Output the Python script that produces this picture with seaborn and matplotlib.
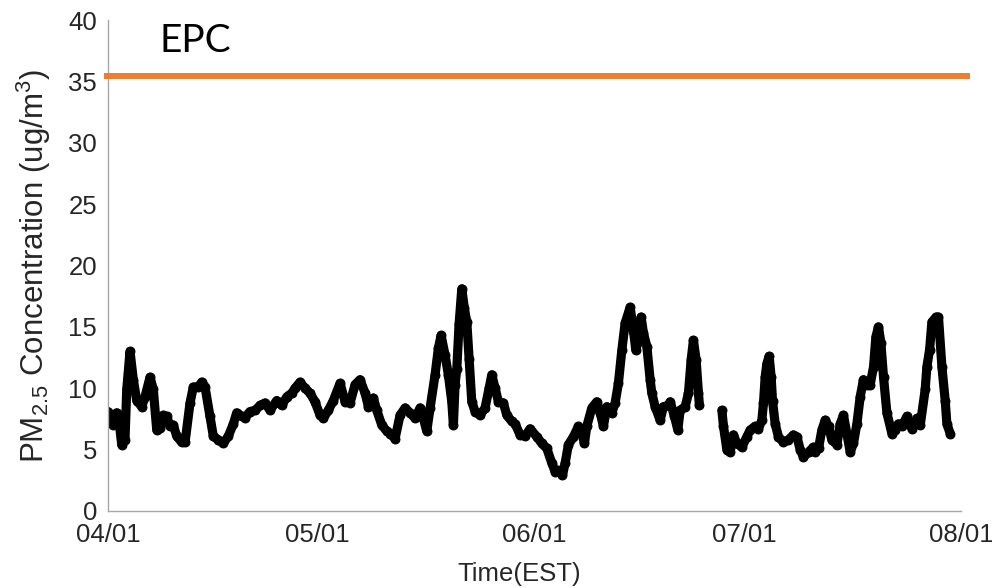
import pandas as pd
import matplotlib
matplotlib.use("Agg")
import matplotlib.pyplot as plt
import matplotlib.dates as mdates
import seaborn as sns

# ---- data -----------------------------------------------------------------
start = pd.Timestamp("2020-04-01")
end = pd.Timestamp("2020-08-01")

# first run of the monitor (days since 04/01, PM2.5 in ug/m3)
days_spring = [0.0, 0.53, 0.72, 1.24, 1.57, 1.96, 2.43, 2.68, 3.15, 3.62,
               4.11, 4.82, 5.29, 6.01, 6.48, 6.97, 7.44, 7.91, 8.40, 8.87,
               9.34, 9.83, 10.54, 11.02, 11.73, 12.20, 12.92, 13.40, 13.88, 14.59,
               15.06, 15.78, 16.49, 17.21, 17.93, 18.41, 19.13, 19.60, 20.30, 21.03,
               21.75, 22.46, 23.18, 24.13, 24.85, 25.57, 26.28, 26.75, 27.47, 28.18,
               28.90, 29.61, 30.33, 30.80, 31.52, 32.23, 33.19, 33.91, 34.62, 35.34,
               36.05, 36.77, 37.24, 37.96, 38.44, 39.16, 39.87, 40.34, 41.06, 41.77,
               42.49, 43.20, 43.92, 44.64, 45.11, 45.59, 46.07, 46.78, 47.25, 47.64,
               48.21, 48.68, 49.17, 49.40, 49.64, 49.89, 50.21, 50.60, 50.97, 51.32,
               51.65, 52.03, 52.50, 53.22, 53.93, 54.51, 54.89, 55.36, 55.84, 56.55,
               57.04, 57.75, 58.23, 58.94, 59.66, 60.37, 61.33, 62.05, 62.76, 63.48,
               63.95, 64.42, 65.00, 65.38, 65.85, 66.57, 67.28, 67.77, 68.14, 68.48,
               69.20, 69.91, 70.39, 70.86, 71.34, 72.06, 72.53, 73.00, 73.49, 73.96,
               74.68, 75.15, 75.49, 75.87, 76.25, 76.58, 77.07, 77.54, 77.78, 78.25,
               78.97, 79.44, 80.16, 80.40, 81.02, 81.50, 81.83, 82.55, 83.02, 83.40,
               83.73, 84.12, 84.45, 84.59]
pm25_spring = [8.1, 7.7, 7.0, 8.0, 7.4, 5.4, 5.8, 9.9, 13.0, 10.7,
               9.0, 8.5, 9.3, 10.9, 9.9, 6.6, 6.8, 7.8, 7.7, 6.9,
               7.0, 6.1, 5.6, 5.6, 8.8, 10.1, 10.1, 10.5, 10.1, 7.7,
               6.1, 5.8, 5.5, 6.1, 7.1, 8.0, 7.7, 7.6, 8.1, 8.2,
               8.6, 8.8, 8.2, 9.0, 8.6, 9.3, 9.6, 10.0, 10.5, 10.0,
               9.6, 8.9, 7.8, 7.55, 8.2, 9.0, 10.4, 8.9, 8.8, 10.3,
               10.7, 9.6, 8.5, 9.2, 8.2, 7.0, 6.5, 6.3, 5.9, 7.8,
               8.4, 8.0, 7.55, 8.4, 7.55, 6.5, 8.4, 11.1, 13.25, 14.3,
               12.7, 11.1, 8.9, 7.0, 10.3, 11.6, 15.2, 18.1, 16.5, 15.4,
               12.4, 8.9, 8.1, 7.8, 8.4, 10.0, 11.1, 10.0, 8.9, 8.8,
               7.8, 7.3, 7.1, 6.2, 6.1, 6.7, 6.05, 5.5, 5.1, 3.9,
               3.2, 3.3, 2.9, 3.9, 5.4, 6.05, 6.9, 6.3, 5.5, 6.9,
               8.4, 8.9, 8.0, 6.9, 8.5, 8.0, 8.8, 10.4, 13.1, 15.3,
               16.6, 14.7, 13.1, 13.9, 15.8, 14.5, 13.4, 10.7, 9.6, 8.5,
               7.4, 8.5, 8.6, 8.9, 7.7, 6.6, 8.2, 8.5, 9.6, 12.3,
               13.9, 12.3, 9.6, 8.6]

# second run, after the late-June outage
days_summer = [87.80, 88.03, 88.51, 88.98, 89.46, 89.94, 90.66, 91.37, 91.85, 92.56,
               93.03, 93.52, 93.75, 93.99, 94.23, 94.56, 94.85, 95.04, 95.42, 95.89,
               96.61, 97.32, 98.04, 98.53, 99.00, 99.47, 100.19, 100.90, 101.14, 101.62,
               102.10, 102.58, 103.05, 103.53, 104.25, 104.72, 105.19, 105.68, 106.15, 106.62,
               107.11, 107.58, 108.05, 108.54, 109.01, 109.49, 109.83, 110.20, 110.54, 110.92,
               111.40, 112.12, 112.59, 113.06, 113.55, 114.26, 114.98, 115.69, 116.17, 116.88,
               117.12, 117.50, 117.84, 118.45, 118.78, 119.27, 119.74, 119.98, 120.46]
pm25_summer = [8.2, 6.9, 5.0, 4.8, 6.2, 5.5, 5.2, 6.05, 6.6, 6.9,
               6.7, 7.4, 8.8, 10.9, 12.0, 12.6, 10.9, 9.0, 7.1, 6.05,
               5.6, 5.8, 6.2, 6.05, 5.0, 4.4, 4.8, 5.2, 4.8, 5.1,
               6.6, 7.4, 6.9, 5.8, 5.4, 7.1, 7.8, 6.3, 4.8, 5.5,
               7.1, 9.3, 10.7, 10.3, 10.3, 11.75, 14.2, 15.0, 13.7, 10.9,
               8.0, 6.3, 6.6, 7.1, 6.9, 7.7, 6.7, 7.55, 7.0, 9.9,
               11.75, 13.1, 15.4, 15.8, 15.8, 11.75, 9.0, 7.1, 6.3]

epc_level = 35.4
epc_label = "EPC"
tick_dates = ["2020-04-01", "2020-05-01", "2020-06-01", "2020-07-01", "2020-08-01"]
y_ticks = [0, 5, 10, 15, 20, 25, 30, 35, 40]

frames = []
for seg, (d, v) in enumerate([(days_spring, pm25_spring), (days_summer, pm25_summer)]):
    frames.append(pd.DataFrame({
        "time": start + pd.to_timedelta(d, unit="D"),
        "pm25": v,
        "segment": seg,
    }))
df = pd.concat(frames, ignore_index=True)

# ---- style ----------------------------------------------------------------
sns.set_style("white")
plt.rcParams["font.family"] = ["Liberation Sans", "DejaVu Sans"]
plt.rcParams["mathtext.fontset"] = "custom"
plt.rcParams["mathtext.rm"] = "Liberation Sans"
plt.rcParams["mathtext.it"] = "Liberation Sans:italic"
plt.rcParams["mathtext.default"] = "regular"

text_col = "#262626"
axis_col = "#a6a6a6"

fig = plt.figure(figsize=(9.92, 5.88), dpi=100)
ax = fig.add_axes([108 / 992, 1 - 511 / 588, 853 / 992, 491 / 588])

sns.lineplot(data=df, x="time", y="pm25", units="segment", estimator=None,
             color="black", linewidth=6.6, marker="o", markersize=6.4,
             markeredgecolor="black", solid_joinstyle="round",
             solid_capstyle="round", ax=ax, legend=False)

# EPC reference line and its label
ax.plot([start - pd.Timedelta(days=0.55), end + pd.Timedelta(days=1.3)],
        [epc_level, epc_level], color="#ed7d31", linewidth=4.3,
        solid_capstyle="butt", clip_on=False, zorder=3)
ax.text(start + pd.Timedelta(days=7.4), 38.3, epc_label, fontsize=28,
        family=["Lato", "DejaVu Sans"], color="black", ha="left", va="center")

ax.set_xlim(start, end)
ax.set_ylim(0, 40)
ax.set_xticks(pd.to_datetime(tick_dates))
ax.xaxis.set_major_formatter(mdates.DateFormatter("%m/%d"))
ax.set_yticks(y_ticks)

for side in ("top", "right"):
    ax.spines[side].set_visible(False)
for side in ("left", "bottom"):
    ax.spines[side].set_color(axis_col)
    ax.spines[side].set_linewidth(1.0)

ax.tick_params(axis="both", direction="in", length=5, width=1.0,
               color=axis_col, labelcolor=text_col, labelsize=18.5)
ax.tick_params(axis="x", pad=9)
ax.tick_params(axis="y", pad=8)

ax.set_xlabel("Time(EST)", fontsize=18.5, color=text_col)
ax.set_ylabel("PM$_{2.5}$ Concentration (ug/m$^{3}$)", fontsize=22.5,
              color=text_col)
ax.xaxis.set_label_coords(0.482, -0.103)
ax.yaxis.set_label_coords(-0.064, 0.5)

fig.savefig("out.png", dpi=100)
